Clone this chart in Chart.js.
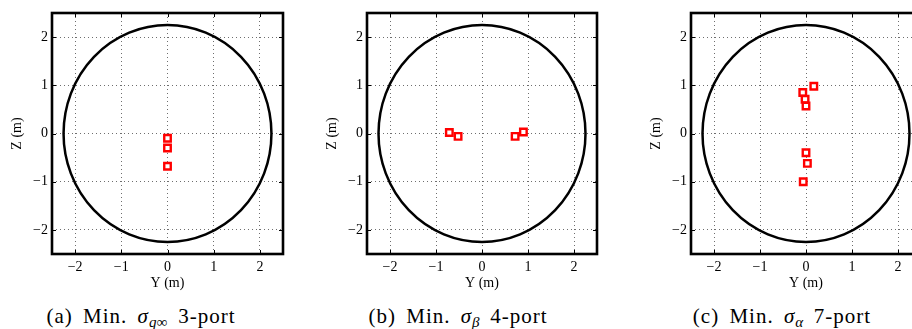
<!DOCTYPE html>
<html>
<head>
<meta charset="utf-8">
<script src="https://cdn.jsdelivr.net/npm/chart.js@4/dist/chart.umd.min.js"></script>
<style>
body{margin:0;background:#fff;}
#page{position:relative;width:912px;height:329px;overflow:hidden;background:#fff;}
#page canvas{position:absolute;top:0;}
.caption{position:absolute;top:305px;line-height:22px;transform:translateX(-50%);white-space:nowrap;font-family:"Liberation Serif",serif;font-size:21px;color:#000;word-spacing:4px;letter-spacing:1px;}
.caption sub{font-size:15px;line-height:0;vertical-align:-4px;letter-spacing:0.4px;}
</style>
</head>
<body>
<div id="page">
<canvas id="plotA" width="291" height="294" style="left:2px"></canvas>
<canvas id="plotB" width="290" height="294" style="left:317px"></canvas>
<canvas id="plotC" width="290" height="294" style="left:641px"></canvas>
<div class="caption" style="left:141px">(a) Min. <i>σ</i><sub><i>q</i>∞</sub> 3-port</div>
<div class="caption" style="left:458px">(b) Min. <i>σ</i><sub><i>β</i></sub> 4-port</div>
<div class="caption" style="left:782px">(c) Min. <i>σ</i><sub><i>α</i></sub> 7-port</div>
</div>
<script>
/* ================= DATA ================= */

// port positions in the Y-Z plane (metres)
const portsA_y=[0,0,0];
const portsA_z=[-0.1,-0.3,-0.68];

const portsB_y=[-0.71,-0.52,0.72,0.9];
const portsB_z=[0.02,-0.06,-0.06,0.03];

const portsC_y=[0.17,-0.07,-0.02,0,0,0.03,-0.06];
const portsC_z=[0.98,0.85,0.71,0.57,-0.4,-0.62,-1.0];

// boundary circle and axes
const circleRadius=2.25;
const tickValues=[-2,-1,0,1,2];
const axisMin=-2.5;
const axisMax=2.5;

const xTitle="Y (m)";
const yTitle="Z (m)";


/* ================= STYLE ================= */

const FONT_FAMILY="'Liberation Serif', 'Times New Roman', serif";
const Y_AXIS_WIDTH=50;
const X_AXIS_HEIGHT=40;


/* ================= PLUGIN ================= */

// circle is drawn under the markers, the box frame on top of everything
const frameAndCircle={
id:"frameAndCircle",
beforeDatasetsDraw(chart){
const {ctx,scales:{x,y}}=chart;
const cx=x.getPixelForValue(0);
const cy=y.getPixelForValue(0);
const rx=Math.abs(x.getPixelForValue(circleRadius)-cx);
const ry=Math.abs(y.getPixelForValue(circleRadius)-cy);
ctx.save();
ctx.beginPath();
ctx.ellipse(cx,cy,rx,ry,0,0,Math.PI*2);
ctx.lineWidth=2.5;
ctx.strokeStyle="#000";
ctx.stroke();
ctx.restore();
},
afterDraw(chart){
const {ctx,chartArea:a,scales:{x,y}}=chart;
ctx.save();
ctx.strokeStyle="#000";
ctx.lineWidth=1;
ctx.beginPath();
tickValues.forEach(v=>{
const px=Math.round(x.getPixelForValue(v))+0.5;
const py=Math.round(y.getPixelForValue(v))+0.5;
ctx.moveTo(px,a.bottom);ctx.lineTo(px,a.bottom-4);
ctx.moveTo(px,a.top);ctx.lineTo(px,a.top+4);
ctx.moveTo(a.left,py);ctx.lineTo(a.left+4,py);
ctx.moveTo(a.right,py);ctx.lineTo(a.right-4,py);
});
ctx.stroke();
ctx.lineWidth=2.6;
ctx.strokeRect(a.left,a.top,a.width,a.height);
ctx.restore();
}
};


/* ================= CHARTS ================= */

function tickLabel(v){
return v<0?"\u2212"+Math.abs(v):String(v);
}

function makeAxis(isX){
return {
type:"linear",
min:axisMin,
max:axisMax,
afterBuildTicks:s=>{s.ticks=tickValues.map(v=>({value:v}));},
afterFit:s=>{
if(isX) s.height=X_AXIS_HEIGHT;
else s.width=Y_AXIS_WIDTH;
},
grid:{color:"#6e6e6e",lineWidth:1,drawTicks:false},
border:{display:false,dash:[1,3]},
ticks:{
color:"#000",
padding:isX?5:4,
font:{family:FONT_FAMILY,size:14},
callback:tickLabel
},
title:{
display:true,
text:isX?xTitle:yTitle,
color:"#000",
font:{family:FONT_FAMILY,size:14},
padding:isX?{top:0,bottom:2}:{top:7,bottom:0}
}
};
}

function createPlot(id,ys,zs){

const points=ys.map((v,i)=>({x:v,y:zs[i]}));

return new Chart(document.getElementById(id),{
type:"scatter",
data:{datasets:[{
data:points,
pointStyle:"rect",
pointRadius:4.6,
pointBorderWidth:2.4,
borderColor:"#ff0000",
backgroundColor:"#ffffff"
}]},
options:{
responsive:false,
animation:false,
layout:{padding:{left:0,top:13,right:10,bottom:0}},
plugins:{legend:{display:false},tooltip:{enabled:false}},
scales:{x:makeAxis(true),y:makeAxis(false)}
},
plugins:[frameAndCircle]
});

}

createPlot("plotA",portsA_y,portsA_z);
createPlot("plotB",portsB_y,portsB_z);
createPlot("plotC",portsC_y,portsC_z);
</script>
</body>
</html>
